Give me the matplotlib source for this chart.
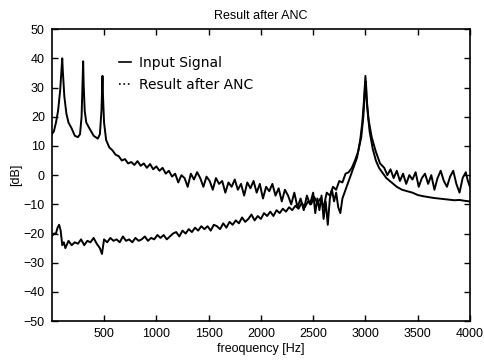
import matplotlib
matplotlib.use("Agg")
import matplotlib.pyplot as plt
from matplotlib.lines import Line2D

# Input signal (solid)
freq_input = [0, 20, 40, 60, 80, 95, 100, 105, 120, 140, 160, 190, 220, 250, 270, 285, 295, 300,
              305, 315, 330, 360, 400, 440, 460, 475, 485, 490, 500, 520, 550,
              580, 610, 640, 670, 700, 730, 760, 790, 820, 850, 880, 910, 940, 970, 1000,
              1030, 1060, 1090, 1120, 1150, 1180, 1210, 1240, 1270, 1300, 1330, 1360, 1390,
              1420, 1450, 1480, 1510, 1540, 1570, 1600, 1630, 1660, 1690, 1720, 1750, 1780,
              1810, 1840, 1870, 1900, 1930, 1960, 1990, 2020, 2050, 2080, 2110, 2140, 2170,
              2200, 2230, 2260, 2290, 2320, 2350, 2380, 2410, 2440, 2470, 2500, 2520, 2540,
              2560, 2580, 2600, 2620, 2640, 2660, 2680, 2700, 2720, 2740, 2760, 2780, 2800,
              2830, 2860, 2890, 2920, 2950, 2970, 2985, 3000, 3010, 3030, 3060, 3100, 3140,
              3180, 3210, 3240, 3270, 3300, 3330, 3360, 3390, 3420, 3450, 3480, 3510, 3540,
              3570, 3600, 3630, 3660, 3690, 3720, 3750, 3780, 3810, 3840, 3870, 3900, 3930,
              3960, 3980, 4000]
db_input = [14, 15, 18, 22, 29, 37, 40, 36, 27, 21, 18, 16, 13.5, 13, 14, 20, 32, 39,
            31, 22, 18, 16, 13.5, 12.5, 14, 22, 34, 27, 18, 12, 9.5,
            8.5, 7, 6.5, 5, 5.5, 4, 4.5, 3.5, 4.8, 3.2, 4, 2.5, 3.8, 2, 3,
            1.5, 2.5, 0.5, 1.5, -0.5, 0.5, -2.5, 0, -1, -4, 0.5, -1.5, 1,
            -1, -4, -0.5, -2, -5, -1, -3, -2, -6, -2.5, -4, -1.5, -5,
            -3, -7, -2.5, -4.5, -2, -6, -3, -8, -4, -5.5, -3, -7, -4.5,
            -9, -5, -7, -10, -6, -11, -8, -12, -7, -10, -6, -13, -8,
            -12, -7, -15, -9, -17, -8, -5, -9, -6, -11, -13, -8, -6,
            -3, 0, 3, 6, 12, 18, 25, 34, 27, 19, 13, 8, 4,
            2.5, 0, 2, -1, 1.5, -2, 0.5, -3, 0, -1.5, 1, -4, -1,
            0.5, -3, 0, -5, -1, 1.5, -2, -4, -0.5, 1.5, -3, -6, -1,
            1, -2, -4]

# Result after ANC
freq_anc = [0, 20, 40, 55, 70, 85, 100, 115, 130, 160, 190, 220, 250, 280, 310, 340, 370, 400,
            430, 460, 480, 500, 530, 560, 590, 620, 650, 680, 710, 740, 770, 800, 830, 860,
            890, 920, 950, 980, 1010, 1040, 1070, 1100, 1130, 1160, 1190, 1220, 1250, 1280,
            1310, 1340, 1370, 1400, 1430, 1460, 1490, 1520, 1550, 1580, 1610, 1640, 1670,
            1700, 1730, 1760, 1790, 1820, 1850, 1880, 1910, 1940, 1970, 2000, 2030, 2060,
            2090, 2120, 2150, 2180, 2210, 2240, 2270, 2300, 2330, 2360, 2390, 2420, 2450,
            2480, 2510, 2540, 2570, 2600, 2630, 2660, 2690, 2720, 2750, 2780, 2810, 2840,
            2870, 2900, 2930, 2960, 2980, 2995, 3005, 3015, 3040, 3070, 3100, 3130, 3160,
            3200, 3250, 3300, 3350, 3400, 3450, 3500, 3550, 3600, 3650, 3700, 3750, 3800,
            3850, 3900, 3950, 4000]
db_anc = [-21, -20, -20, -18, -17, -19, -24, -23, -25, -22.5, -24, -23, -23.5, -22, -24, -22.5, -23, -21.5,
          -23.5, -25, -27, -22, -23, -21.5, -22.5, -22, -23, -21, -22.5, -22, -23, -21.5, -22.5, -22,
          -21, -22.5, -21.5, -22, -20.5, -21.5, -20.5, -22, -21, -20, -19.5, -21, -19, -20,
          -18.5, -19.5, -18, -19, -17.5, -18.5, -17.5, -19, -17, -17.5, -18.5, -16.5, -18,
          -16, -17, -15.5, -16.5, -14.5, -16, -15, -13.5, -15.5, -14, -15, -13, -14,
          -12.5, -14, -12, -13, -11.5, -12.5, -11, -12, -10.5, -11.5, -9.5, -11, -9,
          -10, -7.5, -9.5, -8, -11, -6, -7, -4, -5, -2, -2.5, 0.5, 1,
          2.5, 5, 8, 13, 20, 29, 32, 24, 15, 9, 5, 2.5, 1,
          -1, -2.5, -4, -5, -5.5, -6, -6.8, -7.2, -7.5, -7.8, -8, -8.2, -8.4,
          -8.6, -8.5, -8.8, -9]

plt.rcParams['font.family'] = ['Liberation Sans', 'DejaVu Sans']

fig = plt.figure(figsize=(4.84, 3.6), dpi=100)
ax = fig.add_axes([0.107, 0.108, 0.864, 0.811])

ax.plot(freq_input, db_input, color='black', lw=1.4)
ax.plot(freq_anc, db_anc, color='black', lw=1.4)

ax.set_xlim(0, 4000)
ax.set_ylim(-50, 50)
ax.set_xticks(range(500, 4001, 500))
ax.set_yticks(range(-50, 51, 10))
ax.tick_params(direction='in', length=4, width=1, top=True, right=True,
               labelsize=9, pad=5)
for s in ax.spines.values():
    s.set_linewidth(1.2)

ax.set_title('Result after ANC', fontsize=9, pad=7)
ax.set_xlabel('freoquency [Hz]', fontsize=9, labelpad=2)
ax.set_ylabel('[dB]', fontsize=9, labelpad=1)

handles = [Line2D([], [], color='black', lw=1.2, linestyle='-'),
           Line2D([], [], color='black', lw=1.2, linestyle=':')]
ax.legend(handles, ['Input Signal', 'Result after ANC'], loc='upper left',
          bbox_to_anchor=(0.13, 0.95), frameon=False, handlelength=0.9,
          handletextpad=0.6, labelspacing=0.55,
          prop={'family': 'DejaVu Sans', 'size': 10})

fig.savefig('out.png', dpi=100)
